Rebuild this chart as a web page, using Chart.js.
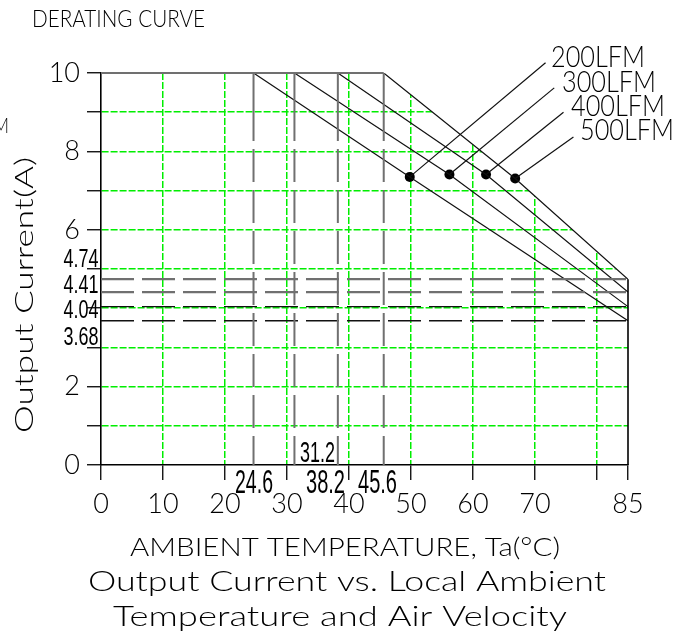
<!DOCTYPE html>
<html><head><meta charset="utf-8">
<script src="https://cdn.jsdelivr.net/npm/chart.js@4.4.1/dist/chart.umd.min.js"></script>
<style>html,body{margin:0;padding:0;background:#fff;overflow:hidden}canvas{display:block}</style>
</head><body>
<canvas id="chart" width="693" height="635"></canvas>
<script>
// ---------------- data ----------------
const xTickValues = [0, 10, 20, 30, 40, 50, 60, 70, 80, 85];
const xTickLabels = ['0', '10', '20', '30', '40', '50', '60', '70', '', '85'];
const yTickValues = [0, 1, 2, 3, 4, 5, 6, 7, 8, 9, 10];
const yTickLabels = ['0', '', '2', '', '', '', '6', '', '8', '', '10'];
const airflows = ['200LFM', '300LFM', '400LFM', '500LFM'];
const kneeTemps = [24.6, 31.2, 38.2, 45.6];
const endCurrents = [3.68, 4.04, 4.41, 4.74];
const maxCurrent = 10;
const maxTemp = 85;
const curve200 = [{x: 24.6, y: 10}, {x: 49.8, y: 7.35}, {x: 85, y: 3.68}];
const curve300 = [{x: 31.2, y: 10}, {x: 56.2, y: 7.41}, {x: 85, y: 4.04}];
const curve400 = [{x: 38.2, y: 10}, {x: 62.1, y: 7.41}, {x: 85, y: 4.41}];
const curve500 = [{x: 45.6, y: 10}, {x: 66.8, y: 7.31}, {x: 85, y: 4.74}];
const markerTemps = [49.8, 56.2, 62.1, 66.8];
const markerCurrents = [7.35, 7.41, 7.41, 7.31];

// ---------------- layout (annotation anchors, not data) ----------------
const LEADER_END = [{x: 71.7, y: 10.26}, {x: 73.1, y: 9.62}, {x: 74.6, y: 9.0}, {x: 76.2, y: 8.37}];
const GREEN = '#00ee00';
const CLEAR = 'rgba(255,255,255,0)';

// pick a light sans font that is really installed
function pickThin() {
  const c = document.createElement('canvas').getContext('2d');
  const s = 'DERATING CURVE 0123456789 Output';
  c.font = '40px monospace';
  const wm = c.measureText(s).width;
  const cands = [['Lato', [300]], ['Roboto', [300]], ['Open Sans', [300]], ['Inter', [300]]];
  for (const [fam, ws] of cands) {
    c.font = "400 40px '" + fam + "', monospace";
    const w4 = c.measureText(s).width;
    if (Math.abs(w4 - wm) < 0.5) continue;
    for (const w of ws) {
      c.font = w + " 40px '" + fam + "', monospace";
      if (Math.abs(c.measureText(s).width - w4) > 0.3) return {family: fam, weight: String(w)};
    }
  }
  return {family: 'Roboto', weight: '300'};
}
const CAD = pickThin();

const curves = [curve200, curve300, curve400, curve500];
const grayCol = '#707070';

const datasets = [];
// white mask above the outermost curve (hides the grid there)
datasets.push({data: curve500, borderColor: '#ffffff', borderWidth: 1, backgroundColor: '#ffffff',
  fill: 'end', pointRadius: 0, order: 100});
// flat top line
datasets.push({data: [{x: 0, y: maxCurrent}, {x: kneeTemps[3], y: maxCurrent}], borderColor: grayCol,
  borderWidth: 2, pointRadius: 0, fill: false, clip: false});
// knee verticals
const kneeDash = [68, 8].concat(...Array(10).fill([33, 8]));
kneeTemps.forEach(k => datasets.push({data: [{x: k, y: maxCurrent}, {x: k, y: 0}], borderColor: grayCol,
  borderWidth: 2, borderDash: kneeDash, pointRadius: 0, fill: false}));
// end-current dashed lines
endCurrents.forEach(v => datasets.push({data: [{x: 0, y: v}, {x: maxTemp, y: v}],
  borderColor: v > 4.2 ? grayCol : '#111', borderWidth: v > 4.2 ? 2.2 : 1.4, borderDash: [33, 8],
  pointRadius: 0, fill: false}));
// right border
datasets.push({data: [{x: maxTemp, y: 0}, {x: maxTemp, y: endCurrents[3]}], borderColor: '#000',
  borderWidth: 1.6, pointRadius: 0, fill: false, clip: false});
// derating curves
curves.forEach((c, i) => datasets.push({label: airflows[i], data: c, borderColor: '#111', borderWidth: 1.2,
  pointRadius: 0, fill: false}));
// leader lines
markerTemps.forEach((t, i) => datasets.push({data: [{x: t, y: markerCurrents[i]}, LEADER_END[i]],
  borderColor: '#111', borderWidth: 1.2, pointRadius: 0, fill: false, clip: false}));
// markers
datasets.push({data: markerTemps.map((t, i) => ({x: t, y: markerCurrents[i]})), showLine: false,
  pointRadius: 5, pointBackgroundColor: '#000', pointBorderColor: '#000', pointBorderWidth: 0});

function fitText(ctx, text, left, baseline, width, size, family, weight) {
  ctx.save();
  ctx.font = (weight || 'normal') + ' ' + size + 'px ' + family;
  const w = ctx.measureText(text).width;
  ctx.translate(left, baseline);
  ctx.scale(width / w, 1);
  ctx.textAlign = 'left';
  ctx.textBaseline = 'alphabetic';
  ctx.fillStyle = '#000';
  ctx.fillText(text, 0, 0);
  ctx.restore();
}

const textPlugin = {
  id: 'texts',
  afterDraw(chart) {
    const ctx = chart.ctx;
    const F = "'" + CAD.family + "'";
    const W = CAD.weight;
    fitText(ctx, 'DERATING CURVE', 32, 26.5, 173, 23.5, F, W);
    const lfmBoxes = [[551, 66.5], [562, 91.5], [571, 116], [580, 140]];
    airflows.forEach((t, i) => fitText(ctx, t, lfmBoxes[i][0], lfmBoxes[i][1], 94, 30, F, W));
    fitText(ctx, 'AMBIENT TEMPERATURE, Ta(\u00B0C)', 130, 556, 430, 25, F, W);
    fitText(ctx, 'Output Current vs. Local Ambient', 88, 591, 518, 28, F, W);
    fitText(ctx, 'Temperature and Air Velocity', 113, 626, 454, 28, F, W);
    ctx.save();
    ctx.translate(33, 433);
    ctx.rotate(-Math.PI / 2);
    fitText(ctx, 'Output Current(A)', 0, 0, 276, 25, F, W);
    ctx.restore();
    fitText(ctx, 'M', -7, 133, 16, 21, F, W);
    const N = "'Liberation Sans', Arial, sans-serif";
    const yl = [267.3, 293.3, 318.3, 345];
    [...endCurrents].reverse().forEach((v, i) => fitText(ctx, v.toFixed(2), 63.5, yl[i], 35, 25.5, N, 'normal'));
    const kl = [[24.6, 235, 492.7, 38, 34], [31.2, 300, 461.7, 35, 29.5], [38.2, 306, 492.7, 39, 34], [45.6, 358, 492.7, 39, 34]];
    kl.forEach(k => fitText(ctx, k[0].toFixed(1), k[1], k[2], k[3], k[4], N, 'normal'));
  }
};

new Chart(document.getElementById('chart'), {
  type: 'line',
  data: {datasets},
  plugins: [textPlugin],
  options: {
    responsive: false, animation: false, events: [],
    layout: {padding: {top: 73, right: 65, bottom: 75, left: 0}},
    plugins: {legend: {display: false}, tooltip: {enabled: false}},
    elements: {line: {tension: 0}},
    scales: {
      x: {
        type: 'linear', min: 0, max: maxTemp,
        afterBuildTicks: s => { s.ticks = xTickValues.map(v => ({value: v})); },
        afterFit: s => { s.height = 95; },
        ticks: {autoSkip: false, maxRotation: 0, padding: 8, color: '#000',
          font: {family: CAD.family, weight: CAD.weight, size: 27},
          callback: (v, i) => xTickLabels[i]},
        grid: {color: xTickValues.map(v => (v === 0 || v === maxTemp) ? CLEAR : GREEN),
          lineWidth: 1.5, tickColor: '#000', tickLength: 15, tickWidth: 1.3, tickBorderDash: []},
        border: {display: true, color: '#000', width: 1.6, dash: [7, 2]}
      },
      y: {
        type: 'linear', min: 0, max: maxCurrent,
        afterBuildTicks: s => { s.ticks = yTickValues.map(v => ({value: v})); },
        afterFit: s => { s.width = 101; },
        ticks: {autoSkip: false, padding: 7, color: '#000',
          font: {family: CAD.family, weight: CAD.weight, size: 27},
          callback: (v, i) => yTickLabels[i]},
        grid: {color: yTickValues.map(v => (v === 0 || v === maxCurrent) ? CLEAR : GREEN),
          lineWidth: 1.5, tickColor: '#000', tickLength: 14, tickWidth: 1.3, tickBorderDash: []},
        border: {display: true, color: '#000', width: 1.6, dash: [7, 2]}
      }
    }
  }
});
</script>
</body></html>
